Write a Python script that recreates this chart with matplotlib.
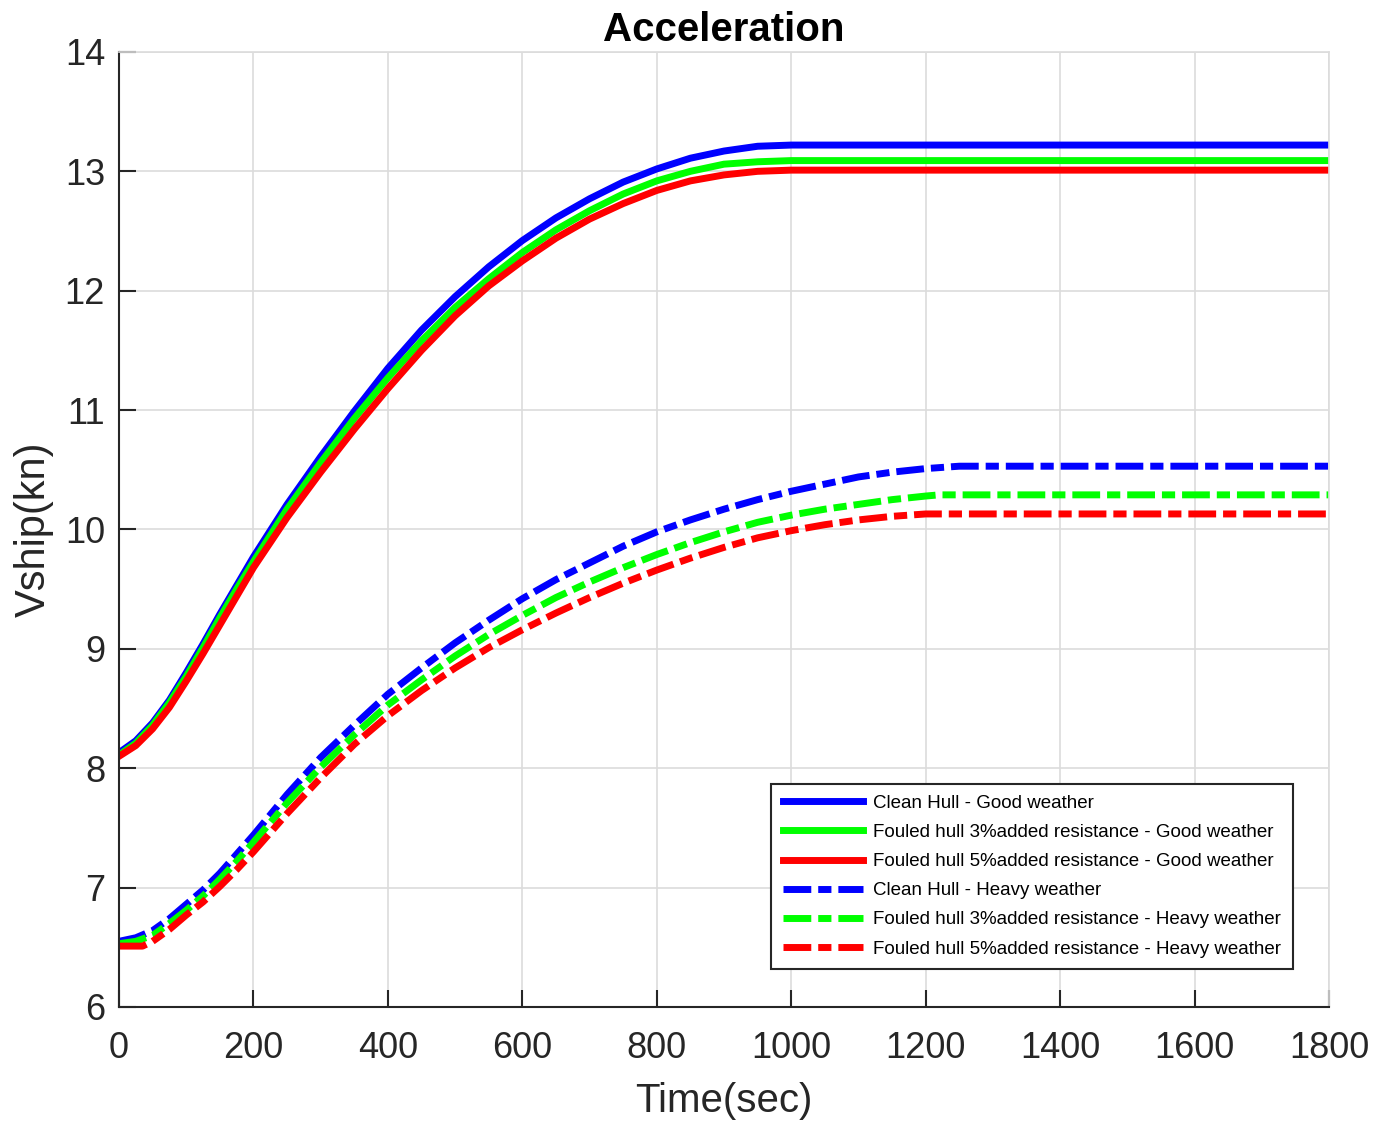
import matplotlib.pyplot as plt

plt.rcParams['font.family'] = ['Liberation Sans', 'DejaVu Sans']

# Good weather (solid lines); flat after 1000 s
t_good = [0, 25, 50, 75, 100, 125, 150, 175, 200, 250, 300, 350, 400, 450, 500, 550,
          600, 650, 700, 750, 800, 850, 900, 950, 1000, 1800]
v_clean_good = [8.13, 8.23, 8.38, 8.57, 8.80, 9.04, 9.29, 9.53, 9.77, 10.21, 10.61, 10.99,
                11.35, 11.67, 11.95, 12.20, 12.42, 12.61, 12.77, 12.91, 13.02, 13.11,
                13.17, 13.21, 13.22, 13.22]
v_foul3_good = [8.11, 8.21, 8.36, 8.55, 8.77, 9.01, 9.26, 9.50, 9.73, 10.17, 10.56, 10.93,
                11.27, 11.58, 11.86, 12.10, 12.32, 12.51, 12.67, 12.81, 12.92, 13.00,
                13.06, 13.08, 13.09, 13.09]
v_foul5_good = [8.10, 8.19, 8.33, 8.51, 8.73, 8.96, 9.20, 9.44, 9.68, 10.10, 10.48, 10.84,
                11.18, 11.50, 11.79, 12.04, 12.25, 12.44, 12.60, 12.73, 12.84, 12.92,
                12.97, 13.00, 13.01, 13.01]

# Heavy weather (dash-dot lines)
t_clean_heavy = [0, 25, 50, 75, 100, 125, 150, 175, 200, 250, 300, 350, 400, 450, 500,
                 550, 600, 650, 700, 750, 800, 850, 900, 950, 1000, 1050, 1100, 1150,
                 1200, 1250, 1800]
v_clean_heavy = [6.55, 6.58, 6.64, 6.74, 6.86, 6.98, 7.12, 7.28, 7.44, 7.78, 8.09, 8.36,
                 8.62, 8.84, 9.05, 9.24, 9.42, 9.58, 9.72, 9.86, 9.98, 10.08, 10.17,
                 10.25, 10.32, 10.38, 10.44, 10.48, 10.51, 10.53, 10.53]
t_foul3_heavy = [0, 25, 50, 75, 100, 125, 150, 175, 200, 250, 300, 350, 400, 450, 500,
                 550, 600, 650, 700, 750, 800, 850, 900, 950, 1000, 1050, 1100, 1150,
                 1200, 1220, 1800]
v_foul3_heavy = [6.53, 6.55, 6.60, 6.70, 6.81, 6.93, 7.07, 7.22, 7.38, 7.71, 8.01, 8.28,
                 8.53, 8.74, 8.94, 9.12, 9.28, 9.43, 9.56, 9.68, 9.79, 9.89, 9.98, 10.06,
                 10.12, 10.17, 10.21, 10.25, 10.28, 10.29, 10.29]
t_foul5_heavy = [0, 35, 50, 75, 100, 125, 150, 175, 200, 250, 300, 350, 400, 450, 500,
                 550, 600, 650, 700, 750, 800, 850, 900, 950, 1000, 1050, 1100, 1150,
                 1200, 1800]
v_foul5_heavy = [6.51, 6.51, 6.55, 6.65, 6.77, 6.88, 7.01, 7.15, 7.30, 7.62, 7.92, 8.20,
                 8.44, 8.65, 8.84, 9.01, 9.16, 9.30, 9.43, 9.55, 9.66, 9.76, 9.85, 9.93,
                 9.99, 10.04, 10.08, 10.11, 10.13, 10.13]

labels = ['Clean Hull - Good weather',
          'Fouled hull 3%added resistance - Good weather',
          'Fouled hull 5%added resistance - Good weather',
          'Clean Hull - Heavy weather',
          'Fouled hull 3%added resistance - Heavy weather',
          'Fouled hull 5%added resistance - Heavy weather']

dashdot = (0, (4.0, 1.0, 1.9, 1.0))
lw = 5
axcol = '#262626'

fig = plt.figure(figsize=(13.87, 11.22), dpi=100)
ax = fig.add_axes([0.0858, 0.1025, 0.8724, 0.8512])

ax.plot(t_good, v_clean_good, color=(0, 0, 1), lw=lw, label=labels[0])
ax.plot(t_good, v_foul3_good, color=(0, 1, 0), lw=lw, label=labels[1])
ax.plot(t_good, v_foul5_good, color=(1, 0, 0), lw=lw, label=labels[2])
ax.plot(t_clean_heavy, v_clean_heavy, color=(0, 0, 1), lw=lw, ls=dashdot, label=labels[3])
ax.plot(t_foul3_heavy, v_foul3_heavy, color=(0, 1, 0), lw=lw, ls=dashdot, label=labels[4])
ax.plot(t_foul5_heavy, v_foul5_heavy, color=(1, 0, 0), lw=lw, ls=dashdot, label=labels[5])

ax.set_xlim(0, 1800)
ax.set_ylim(6, 14)
ax.set_xticks(range(0, 1801, 200))
ax.set_yticks(range(6, 15))

# MATLAB-like look: inward ticks, light grid, open top/right
ax.grid(True, color='#dcdcdc', linewidth=1.2)
ax.set_axisbelow(True)
for s in ['left', 'bottom']:
    ax.spines[s].set_color(axcol)
    ax.spines[s].set_linewidth(1.5)
for s in ['top', 'right']:
    ax.spines[s].set_color('#dcdcdc')
    ax.spines[s].set_linewidth(1.2)
ax.tick_params(direction='in', length=12, width=1.5, color=axcol,
               labelsize=26, labelcolor=axcol)
ax.tick_params(axis='x', pad=17)
ax.tick_params(axis='y', pad=10)

ax.set_title('Acceleration', fontsize=29, fontweight='bold', pad=8)
ax.set_xlabel('Time(sec)', fontsize=29, color=axcol, labelpad=12)
ax.set_ylabel('Vship(kn)', fontsize=30, color=axcol, labelpad=8)

leg = ax.legend(loc='lower right', bbox_to_anchor=(0.970, 0.040), borderaxespad=0,
                fontsize=13.5, handlelength=4.3, handletextpad=0.55, labelspacing=0.64,
                borderpad=0.6, fancybox=False, framealpha=1, edgecolor=axcol)
leg.get_frame().set_linewidth(1.5)

plt.savefig('out.png', dpi=100)
